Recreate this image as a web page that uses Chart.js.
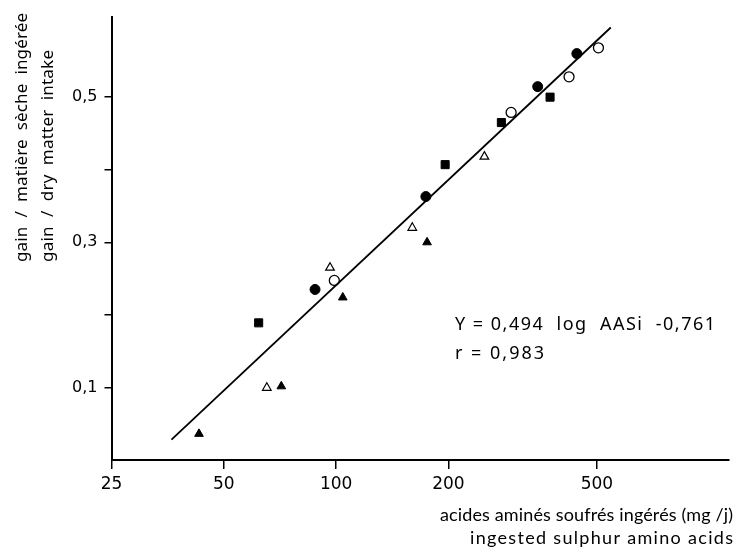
<!DOCTYPE html>
<html>
<head>
<meta charset="utf-8">
<script src="https://cdn.jsdelivr.net/npm/chart.js@4"></script>
<style>
  html, body { margin: 0; padding: 0; background: #fff; }
  #wrap { width: 737px; height: 552px; position: relative; }
</style>
</head>
<body>
<div id="wrap"><canvas id="scatterChart"></canvas></div>
<script>
// values (x: mg/j, y: gain / dry matter intake)
var filledCirclesX = [87.8, 174, 347, 441.8];
var filledCirclesY = [0.235, 0.363, 0.5145, 0.560];
var openCirclesX = [98.9, 294.5, 421, 504.8];
var openCirclesY = [0.2475, 0.479, 0.528, 0.568];
var filledSquaresX = [62.0, 196, 277.3, 374.5];
var filledSquaresY = [0.189, 0.407, 0.465, 0.500];
var openTrianglesX = [65.2, 96.3, 160, 249.7];
var openTrianglesY = [0.0995, 0.265, 0.320, 0.418];
var filledTrianglesX = [42.9, 71.3, 104.2, 175.3];
var filledTrianglesY = [0.036, 0.1015, 0.224, 0.300];
var regressionX = [36.2, 544.7];
var regressionY = [0.028, 0.596];

var xTicks = [25, 50, 100, 200, 500];
var xTickLabels = ["25", "50", "100", "200", "500"];
var yTicks = [0.1, 0.2, 0.3, 0.4, 0.5];
var yTickLabels = ["0,1", "", "0,3", "", "0,5"];

var yTitle = ["gain  /  matière  sèche  ingérée", "gain  /  dry  matter  intake"];
var xTitle = ["acides aminés soufrés ingérés (mg /j)", "ingested sulphur amino acids"];
var equation = ["Y = 0,494  log  AASi  -0,761", "r = 0,983"];

function pts(xs, ys) {
  return xs.map(function (x, i) { return { x: x, y: ys[i] }; });
}

function spacedText(ctx, text, x, y, width) {
  ctx.textAlign = 'left';
  if ('letterSpacing' in ctx) {
    ctx.letterSpacing = '0px';
    var w0 = ctx.measureText(text).width;
    var n = Array.from(text).length;
    ctx.letterSpacing = ((width - w0) / (n - 1)) + 'px';
    ctx.fillText(text, x, y);
    ctx.letterSpacing = '0px';
  } else {
    var w = ctx.measureText(text).width;
    ctx.save();
    ctx.translate(x, y);
    ctx.scale(width / w, 1);
    ctx.fillText(text, 0, 0);
    ctx.restore();
  }
}

var textPlugin = {
  id: 'texts',
  afterDraw: function (chart) {
    var ctx = chart.ctx;
    ctx.save();
    ctx.fillStyle = '#000';
    ctx.textBaseline = 'middle';

    // y title, rotated, both lines starting at the same height
    ctx.font = '17px "Noto Sans"';
    ctx.save();
    ctx.translate(22, 262);
    ctx.rotate(-Math.PI / 2);
    spacedText(ctx, yTitle[0], 0, 0, 249);
    ctx.restore();
    ctx.save();
    ctx.translate(48, 262);
    ctx.rotate(-Math.PI / 2);
    spacedText(ctx, yTitle[1], 0, 0, 212);
    ctx.restore();

    // x title, right aligned
    ctx.font = '18px Lato';
    spacedText(ctx, xTitle[0], 733 - 293, 515, 293);
    spacedText(ctx, xTitle[1], 733 - 263, 538, 263);

    // regression equation
    ctx.font = '18px "Noto Sans"';
    spacedText(ctx, equation[0], 455, 325, 260);
    spacedText(ctx, equation[1], 455, 354, 89);
    ctx.restore();
  }
};

var ctx = document.getElementById("scatterChart").getContext("2d");
var myChart = new Chart(ctx, {
  type: 'scatter',
  data: {
    datasets: [
      {
        type: 'line',
        data: pts(regressionX, regressionY),
        borderColor: '#000',
        borderWidth: 1.8,
        pointRadius: 0,
        fill: false
      },
      {
        data: pts(filledCirclesX, filledCirclesY),
        pointStyle: 'circle',
        pointRadius: 5,
        backgroundColor: '#000',
        borderColor: '#000',
        borderWidth: 1
      },
      {
        data: pts(openCirclesX, openCirclesY),
        pointStyle: 'circle',
        pointRadius: 5,
        backgroundColor: '#fff',
        borderColor: '#000',
        borderWidth: 1.3
      },
      {
        data: pts(filledSquaresX, filledSquaresY),
        pointStyle: 'rect',
        pointRadius: 5.7,
        backgroundColor: '#000',
        borderColor: '#000',
        borderWidth: 1
      },
      {
        data: pts(openTrianglesX, openTrianglesY),
        pointStyle: 'triangle',
        pointRadius: 5,
        backgroundColor: '#fff',
        borderColor: '#000',
        borderWidth: 1.2
      },
      {
        data: pts(filledTrianglesX, filledTrianglesY),
        pointStyle: 'triangle',
        pointRadius: 5,
        backgroundColor: '#000',
        borderColor: '#000',
        borderWidth: 1
      }
    ]
  },
  options: {
    responsive: true,
    maintainAspectRatio: false,
    animation: false,
    layout: {
      padding: { left: 0, right: 8, top: 10, bottom: 0 }
    },
    plugins: {
      legend: { display: false },
      tooltip: { enabled: false }
    },
    scales: {
      x: {
        type: 'logarithmic',
        min: 25,
        max: 1130,
        afterBuildTicks: function (scale) {
          scale.ticks = xTicks.map(function (v) { return { value: v }; });
        },
        afterFit: function (scale) { scale.height = 92; },
        ticks: {
          color: '#000',
          padding: 5,
          maxRotation: 0,
          autoSkip: false,
          font: { family: 'DejaVu Sans', size: 17 },
          callback: function (v, i) { return xTickLabels[i]; }
        },
        grid: {
          drawOnChartArea: false,
          drawTicks: true,
          tickLength: 9,
          color: '#000',
          lineWidth: 1.5
        },
        border: { display: true, color: '#000', width: 2 }
      },
      y: {
        min: 0,
        max: 0.611,
        afterBuildTicks: function (scale) {
          scale.ticks = yTicks.map(function (v) { return { value: v }; });
        },
        afterFit: function (scale) { scale.width = 111.5; },
        ticks: {
          color: '#000',
          padding: 7,
          autoSkip: false,
          font: { family: 'DejaVu Sans', size: 16 },
          callback: function (v, i) { return yTickLabels[i]; }
        },
        grid: {
          drawOnChartArea: false,
          drawTicks: true,
          tickLength: 7,
          color: '#000',
          lineWidth: 1.5
        },
        border: { display: true, color: '#000', width: 2 }
      }
    }
  },
  plugins: [textPlugin]
});
</script>
</body>
</html>
